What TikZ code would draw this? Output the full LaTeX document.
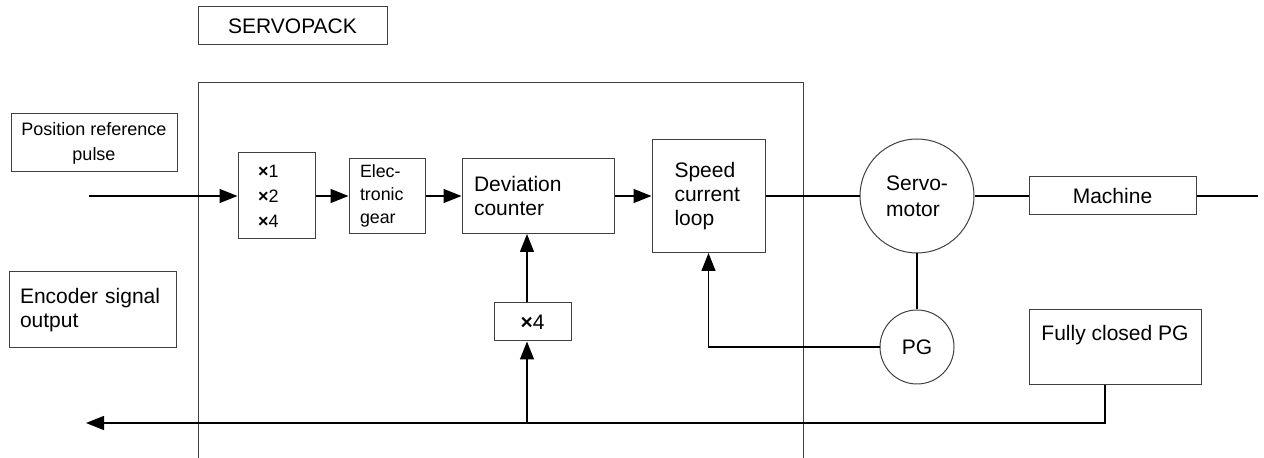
\documentclass[tikz,border=0pt]{standalone}
\usepackage{fontspec}
\setmainfont{Liberation Sans}
\usetikzlibrary{arrows.meta}

\newcommand{\tms}{\textbf{×}}

\begin{document}
\begin{tikzpicture}[x=0.5pt, y=-0.5pt,
    every node/.style={draw=black!75, line width=0.5pt, inner sep=0pt,
        font=\fontsize{10.5}{12}\selectfont},
    blk/.style={rectangle},
    small/.style={font=\fontsize{9}{12.5}\selectfont},
    wire/.style={line width=0.7pt},
    sig/.style={line width=0.7pt, -{Triangle[length=9pt, width=7pt]}}]
    \useasboundingbox (0, 0) rectangle (1264, 458);

    \node[blk, minimum width=94.5pt, minimum height=19pt] (servopack) at (292.5, 26) {SERVOPACK};
    \draw[black!75, line width=0.5pt] (198, 458) -- (198, 83) -- (803, 83) -- (803, 458);

    \node[blk, small, align=center, minimum width=83pt, minimum height=29pt] (posref) at (94, 143) {Position reference\\pulse};
    \node[blk, align=left, inner xsep=5.5pt, text width=72.5pt, minimum height=38pt] (encoder) at (92.5, 310) {Encoder signal\\output};

    \node[blk, small, align=left, inner xsep=10pt, text width=18.5pt, minimum height=43pt] (mult) at (276.5, 196) {\tms1\\\tms2\\\tms4};
    \node[blk, align=left, inner xsep=5.5pt, text width=27pt, minimum height=37.5pt,
        font=\fontsize{8.9}{11.3}\selectfont] (gear) at (387, 196) {Elec-\\tronic\\gear};
    \node[blk, align=left, inner xsep=6pt, text width=64pt, minimum height=37.5pt] (devcnt) at (538, 196) {Deviation\\counter};
    \node[blk, align=left, inner xsep=11.25pt, text width=34pt, minimum height=56.5pt] (speed) at (708.5, 196) {Speed\\current\\loop};
    \node[circle, align=left, minimum size=57pt, font=\fontsize{10.5}{13}\selectfont] (motor) at (917, 196) {Servo-\\motor};
    \node[blk, minimum width=83.5pt, minimum height=19pt] (machine) at (1112.5, 196) {Machine};
    \node[circle, minimum size=37pt] (pg) at (917, 347) {PG};
    \node[blk, minimum width=38.5pt, minimum height=19pt] (x4) at (532.5, 322) {\tms4};
    \node[blk, minimum width=86pt, text height=15.5pt, text depth=22pt] (fcpg) at (1115, 347.5) {Fully closed PG};

    \coordinate (in) at (89, 196);
    \coordinate (load) at (1258, 196);
    \coordinate (tap) at (1105, 423);
    \coordinate (jn) at (527, 423);
    \coordinate (out) at (86, 423);

    \draw[sig] (in) -- (mult);
    \draw[sig] (mult) -- (gear);
    \draw[sig] (gear) -- (devcnt);
    \draw[sig] (devcnt) -- (speed);
    \draw[wire] (speed) -- (motor);
    \draw[wire] (motor) -- (machine);
    \draw[wire] (machine) -- (load);
    \draw[wire] (motor) -- (pg);
    \draw[sig] (pg) -| (speed.south);
    \draw[sig] (jn) -- (jn |- x4.south);
    \draw[sig] (jn |- x4.north) -- (jn |- devcnt.south);
    \draw[sig] (tap |- fcpg.south) -- (tap) -- (out);
\end{tikzpicture}
\end{document}
